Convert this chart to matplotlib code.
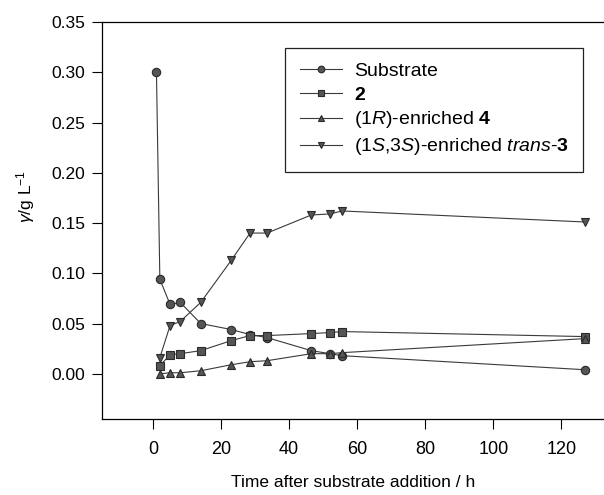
import matplotlib
matplotlib.use('Agg')
from matplotlib import pyplot as plt

plt.rcParams['font.family'] = ['Liberation Sans', 'DejaVu Sans']
plt.rcParams['mathtext.fontset'] = 'custom'
plt.rcParams['mathtext.rm'] = 'Liberation Sans'
plt.rcParams['mathtext.it'] = 'Liberation Sans:italic'
plt.rcParams['mathtext.bf'] = 'Liberation Sans:bold'

# data (time in h, concentration in g/L)
t_sub = [1, 2, 5, 8, 14, 23, 28.5, 33.5, 46.5, 52, 55.5, 127]
substrate = [0.300, 0.094, 0.069, 0.071, 0.050, 0.044, 0.039, 0.036, 0.023, 0.020, 0.018, 0.004]

t = [2, 5, 8, 14, 23, 28.5, 33.5, 46.5, 52, 55.5, 127]
comp2 = [0.008, 0.019, 0.020, 0.023, 0.033, 0.038, 0.038, 0.040, 0.041, 0.042, 0.037]
comp4 = [0.000, 0.001, 0.001, 0.003, 0.009, 0.012, 0.013, 0.020, 0.020, 0.021, 0.035]
trans3 = [0.016, 0.048, 0.052, 0.071, 0.113, 0.140, 0.140, 0.158, 0.159, 0.162, 0.151]

labels = ['Substrate', r'$\mathbf{2}$', r'(1$\mathit{R}$)-enriched $\mathbf{4}$',
          r'(1$\mathit{S}$,3$\mathit{S}$)-enriched $\mathit{trans}$-$\mathbf{3}$']

fig = plt.figure(figsize=(6.04, 4.95), dpi=100)
ax = fig.add_axes([102 / 604, 1 - 419 / 495, 1 - 102 / 604, (419 - 22) / 495])

style = dict(color='#3a3a3a', lw=0.8, ms=6, mfc='#555555', mec='#2a2a2a', mew=0.8)
ax.plot(t_sub, substrate, marker='o', label=labels[0], **style)
ax.plot(t, comp2, marker='s', label=labels[1], **style)
ax.plot(t, comp4, marker='^', label=labels[2], **style)
ax.plot(t, trans3, marker='v', label=labels[3], **style)

ax.set_xlim(-15, 132.5)
ax.set_ylim(-0.045, 0.35)
ax.set_xticks(range(0, 121, 20))
ax.set_yticks([0.0, 0.05, 0.10, 0.15, 0.20, 0.25, 0.30, 0.35])
ax.set_yticklabels(['0.00', '0.05', '0.10', '0.15', '0.20', '0.25', '0.30', '0.35'])
ax.tick_params(axis='x', direction='out', length=7, width=0.8, pad=9, labelsize=13)
ax.tick_params(axis='y', direction='out', length=7, width=0.8, pad=5, labelsize=12.5)
ax.spines['right'].set_visible(False)
for s in ['left', 'top', 'bottom']:
    ax.spines[s].set_linewidth(0.9)

ax.set_xlabel('Time after substrate addition / h', fontsize=12.5, labelpad=12)
ax.set_ylabel(r'$\gamma$/g L$^{-1}$', fontsize=12.5)
ax.yaxis.set_label_coords(-0.13, 0.56)

leg = ax.legend(loc='upper left', bbox_to_anchor=(285 / 604, 1 - 48 / 495),
                bbox_transform=fig.transFigure, borderaxespad=0, fontsize=14,
                fancybox=False, framealpha=1, edgecolor='#222222',
                handlelength=2.2, handletextpad=0.6, labelspacing=0.3,
                borderpad=0.75, markerscale=0.8)
leg.get_frame().set_linewidth(0.9)

fig.savefig('out.png', dpi=100)
